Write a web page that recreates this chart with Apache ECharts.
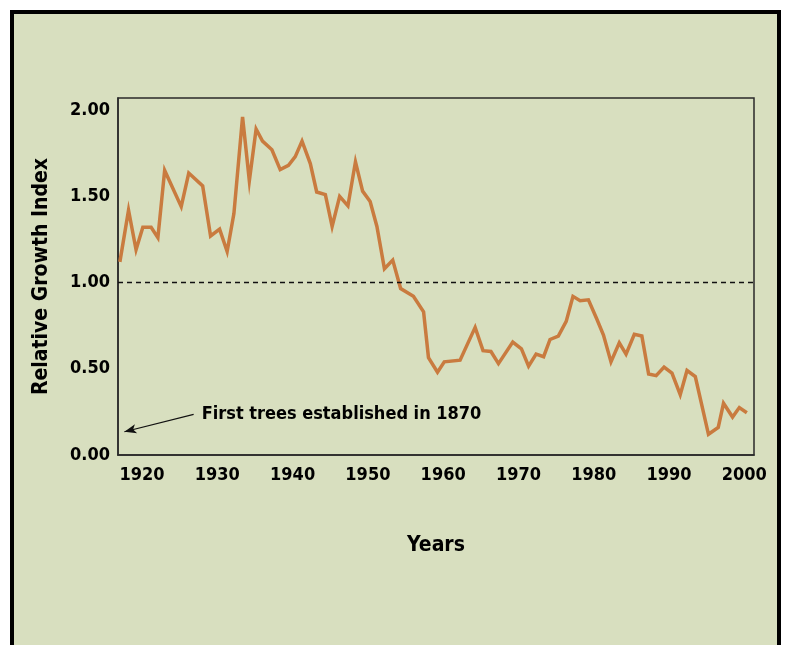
<!DOCTYPE html>
<html>
<head>
<meta charset="utf-8">
<script src="https://cdn.jsdelivr.net/npm/echarts@6/dist/echarts.min.js"></script>
<style>
  html, body { margin: 0; padding: 0; background: #fff; }
  #frame {
    position: absolute; left: 10px; top: 10px; width: 771px; height: 700px;
    box-sizing: border-box; border: 4px solid #000; background: #d8dfbf;
  }
  #chart { position: absolute; left: 0; top: 0; width: 786px; height: 645px; }
</style>
</head>
<body>
<div id="frame"></div>
<div id="chart"></div>
<script>
  // values (year, relative growth index)
  var years = [
    1917.05, 1918.2, 1919.2, 1920.1, 1921.2, 1922.1, 1923.0, 1925.2, 1926.2, 1928.05,
    1929.1, 1930.3, 1931.3, 1932.2, 1933.35, 1934.25, 1935.15, 1936.0, 1937.25, 1938.35,
    1939.45, 1940.35, 1941.25, 1942.35, 1943.2, 1944.35, 1945.25, 1946.25, 1947.35, 1948.35,
    1949.3, 1950.3, 1951.2, 1952.2, 1953.3, 1954.35, 1956.05, 1957.4, 1958.05, 1959.25,
    1960.15, 1962.25, 1964.25, 1965.3, 1966.35, 1967.35, 1969.25, 1970.4, 1971.35, 1972.35,
    1973.35, 1974.2, 1975.3, 1976.35, 1977.25, 1978.2, 1979.3, 1980.4, 1981.3, 1982.3,
    1983.4, 1984.3, 1985.4, 1986.4, 1987.3, 1988.3, 1989.35, 1990.4, 1991.5, 1992.4,
    1993.5, 1995.25, 1996.55, 1997.25, 1998.45, 1999.35, 2000.35
  ];
  var growth = [
    1.12, 1.42, 1.19, 1.32, 1.32, 1.26, 1.65, 1.44, 1.635, 1.56,
    1.27, 1.31, 1.18, 1.40, 1.96, 1.59, 1.89, 1.82, 1.77, 1.655,
    1.68, 1.73, 1.82, 1.69, 1.525, 1.51, 1.325, 1.50, 1.445, 1.70,
    1.53, 1.47, 1.325, 1.08, 1.13, 0.965, 0.92, 0.83, 0.565, 0.48,
    0.54, 0.55, 0.74, 0.605, 0.60, 0.53, 0.655, 0.615, 0.515, 0.585,
    0.57, 0.67, 0.69, 0.775, 0.92, 0.895, 0.90, 0.79, 0.695, 0.54,
    0.65, 0.585, 0.70, 0.69, 0.47, 0.46, 0.51, 0.475, 0.35, 0.49,
    0.455, 0.12, 0.16, 0.30, 0.22, 0.275, 0.245
  ];
  var yTicks = [0, 0.5, 1, 1.5, 2];
  var xTicks = [1920, 1930, 1940, 1950, 1960, 1970, 1980, 1990, 2000];
  var refLevel = 1.0;
  var note = 'First trees established in 1870';
  var noteFrom = [1926.85, 0.236];
  var noteTo = [1917.65, 0.135];

  var font = '"DejaVu Sans Condensed", "Liberation Sans Narrow", sans-serif';
  var myChart = echarts.init(document.getElementById('chart'));
  var option = {
    backgroundColor: 'transparent',
    animation: false,
    grid: {
      left: 118, right: 32, top: 98, bottom: 190,
      show: true, borderColor: '#2a2a2a', borderWidth: 1.5, backgroundColor: 'transparent'
    },
    xAxis: {
      type: 'value',
      min: 1916.8,
      max: 2001.3,
      splitNumber: 8,
      minInterval: 10,
      maxInterval: 10,
      name: 'Years',
      nameLocation: 'middle',
      nameGap: 80,
      nameTextStyle: { fontFamily: font, fontWeight: 'bold', fontSize: 21, color: '#000' },
      axisLine: { show: true, lineStyle: { color: '#2a2a2a', width: 1.5 } },
      axisTick: { show: false },
      splitLine: { show: false },
      axisLabel: {
        margin: 11,
        fontFamily: font, fontWeight: 'bold', fontSize: 18, color: '#000',
        formatter: function (v) { return xTicks.indexOf(v) >= 0 ? String(v) : ''; }
      }
    },
    yAxis: {
      type: 'value',
      min: 0,
      max: 2.07,
      interval: 0.5,
      name: 'Relative Growth Index',
      nameLocation: 'middle',
      nameRotate: 90,
      nameGap: 66,
      nameTextStyle: { fontFamily: font, fontWeight: 'bold', fontSize: 21, color: '#000' },
      axisLine: { show: true, lineStyle: { color: '#2a2a2a', width: 1.5 } },
      axisTick: { show: false },
      splitLine: { show: false },
      axisLabel: {
        margin: 8,
        fontFamily: font, fontWeight: 'bold', fontSize: 18, color: '#000',
        formatter: function (v) {
          for (var i = 0; i < yTicks.length; i++) {
            if (Math.abs(yTicks[i] - v) < 1e-6) return v.toFixed(2);
          }
          return '';
        }
      }
    },
    series: [{
      type: 'line',
      data: years.map(function (y, i) { return [y, growth[i]]; }),
      showSymbol: false,
      symbol: 'none',
      lineStyle: { color: '#c97b3f', width: 3.5, join: 'miter' },
      markLine: {
        silent: true,
        symbol: ['none', 'none'],
        label: { show: false },
        data: [
          { yAxis: refLevel, lineStyle: { color: '#111', width: 1.3, type: [5, 4] } },
          [
            { coord: noteFrom, symbol: 'none', lineStyle: { color: '#111', width: 1.2, type: 'solid' } },
            { coord: noteTo, symbol: 'arrow', symbolSize: [7, 12] }
          ]
        ]
      },
      markPoint: {
        silent: true,
        symbol: 'circle',
        symbolSize: 0,
        data: [{
          coord: [noteFrom[0], 0.238],
          label: {
            show: true, position: 'right', distance: 8, formatter: note,
            fontFamily: font, fontWeight: 'bold', fontSize: 18, color: '#000'
          }
        }]
      }
    }]
  };
  myChart.setOption(option);
</script>
</body>
</html>
